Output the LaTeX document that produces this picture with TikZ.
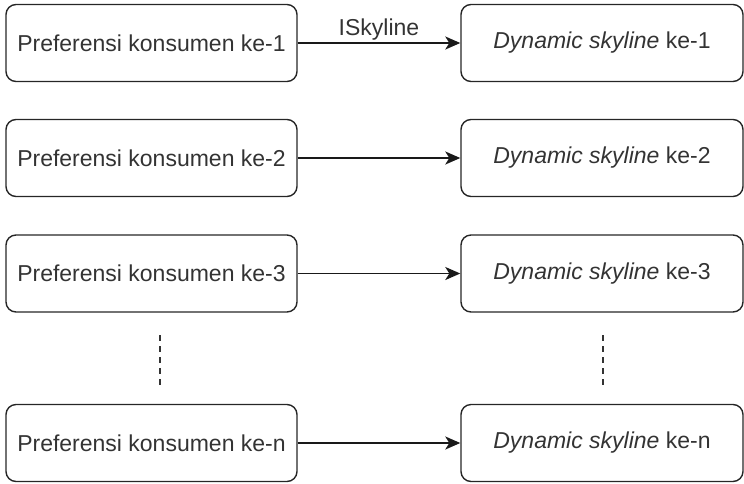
\documentclass[tikz,border=0pt]{standalone}
\usepackage{fontspec}
\setmainfont{Liberation Sans}
\usepackage{tikz}
\usetikzlibrary{arrows.meta}

\begin{document}
\begin{tikzpicture}[x=1pt, y=-1pt,
		kotak/.style={draw=black!85, line width=1.4pt, rounded corners=10pt, minimum height=77pt, inner sep=0pt, text=black!80, font=\fontsize{23}{27}\selectfont},
		kiri/.style={kotak, minimum width=291pt},
		kanan/.style={kotak, minimum width=282pt},
		panah/.style={draw=black!90, line width=1.7pt, -{Stealth[length=15pt, width=13pt, inset=4pt]}},
		titik/.style={draw=black!80, line width=1.4pt, dash pattern=on 6pt off 5pt}]
		\useasboundingbox (0,0) rectangle (744,483);
		% kolom kiri
		\node[kiri] (pref1) at (151.5,43) {Preferensi konsumen ke-1};
		\node[kiri] (pref2) at (151.5,158) {Preferensi konsumen ke-2};
		\node[kiri] (pref3) at (151.5,273.5) {Preferensi konsumen ke-3};
		\node[kiri] (prefn) at (151.5,443) {Preferensi konsumen ke-n};
		% kolom kanan
		\node[kanan] (dyn1) at (602,43) {\textit{Dynamic skyline} ke-1};
		\node[kanan] (dyn2) at (602,158) {\textit{Dynamic skyline} ke-2};
		\node[kanan] (dyn3) at (602,273.5) {\textit{Dynamic skyline} ke-3};
		\node[kanan] (dynn) at (602,443) {\textit{Dynamic skyline} ke-n};
		% panah
		\draw[panah] (pref1) -- node[above, inner sep=2pt, text=black!80, font=\fontsize{23}{27}\selectfont] (lbl) {ISkyline} (dyn1);
		\draw[panah] (pref2) -- (dyn2);
		\draw[panah] (pref3) -- (dyn3);
		\draw[panah] (prefn) -- (dynn);
		% titik-titik
		\coordinate (a1) at (160,335);
		\coordinate (a2) at (160,388);
		\coordinate (b1) at (603,335);
		\coordinate (b2) at (603,388);
		\draw[titik] (a1) -- (a2);
		\draw[titik] (b1) -- (b2);
	\end{tikzpicture}
\end{document}
